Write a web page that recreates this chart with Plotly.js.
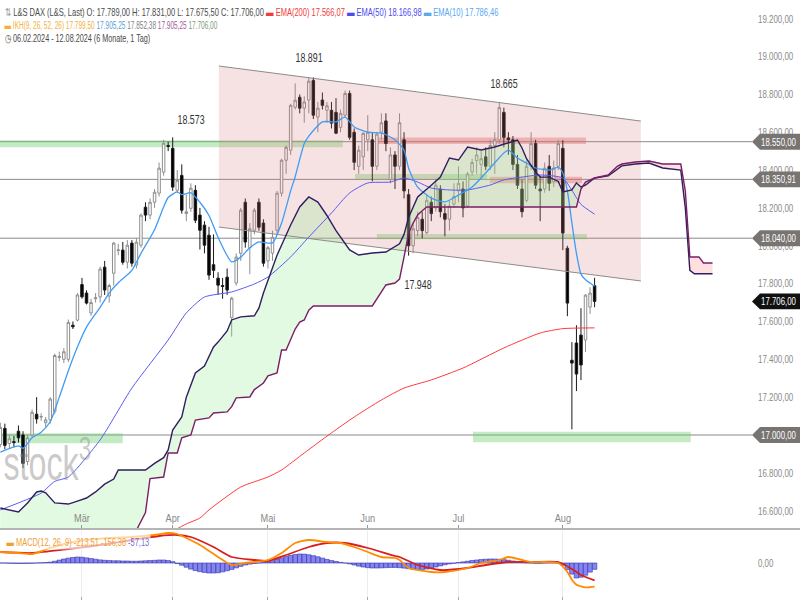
<!DOCTYPE html>
<html><head><meta charset="utf-8">
<script src="https://cdn.plot.ly/plotly-3.0.1.min.js"></script>
<style>html,body{margin:0;padding:0;background:#fff}#chart{width:800px;height:600px}</style>
</head><body><div id="chart"></div>
<script>
// ---------- trading calendar (L&S DAX, daily) ----------
const tradingMonths = [
  ['2024-02','06 07 08 09 12 13 14 15 16 19 20 21 22 23 26 27 28 29'],
  ['2024-03','01 04 05 06 07 08 11 12 13 14 15 18 19 20 21 22 25 26 27 28'],
  ['2024-04','02 03 04 05 08 09 10 11 12 15 16 17 18 19 22 23 24 25 26 29 30'],
  ['2024-05','02 03 06 07 08 09 10 13 14 15 16 17 20 21 22 23 24 27 28 29 30 31'],
  ['2024-06','03 04 05 06 07 10 11 12 13 14 17 18 19 20 21 24 25 26 27 28'],
  ['2024-07','01 02 03 04 05 08 09 10 11 12 15 16 17 18 19 22 23 24 25 26 29 30 31'],
  ['2024-08','01 02 05 06 07 08 09 12']
];
const projectionMonths = [
  ['2024-08','13 14 15 16 19 20 21 22 23 26 27 28 29 30'],
  ['2024-09','02 03 04 05 06 09 10 11 12 13 16 17 18 19 20 23 24 25 26 27 30']
];
const holidays = ['2024-03-29','2024-04-01','2024-05-01'];

// ---------- OHLC ----------
const open  = [16950,17035,16955,16965,17020,17000,16860,17000,17110,17095,17065,17080,17125,17410,17400,17400,17580,17607,17795,17750,17645,17720,17730,17887,17735,17855,17975,17977,17913,18014,17898,18003,18204,18162,18230,18278,18389,18530,18515,18293,18372,18170,18198,18293,18162,18109,18056,17900,17829,17790,17834,17620,17803,17960,18230,17990,18082,18230,18120,17920,17961,18082,18278,18452,18505,18732,18785,18727,18770,18874,18680,18770,18716,18716,18705,18626,18690,18805,18600,18420,18470,18560,18560,18420,18600,18660,18350,18480,18420,18560,18270,18000,18080,18140,18070,18230,18200,18300,18170,18140,18220,18290,18300,18210,18390,18450,18430,18470,18420,18530,18560,18705,18570,18560,18430,18300,18240,18420,18540,18300,18300,18420,18340,18420,18515,17987,17395,17486,17528,17502,17676,17789];
const high  = [17065,17060,17000,16995,17050,17020,17000,17135,17200,17115,17095,17200,17430,17440,17460,17610,17600,17750,17830,17765,17720,17750,17890,17920,17800,18020,18010,18020,18030,18030,18040,18170,18230,18250,18300,18440,18560,18550,18573,18400,18430,18270,18330,18320,18200,18130,18100,18060,17860,17830,17880,17730,17960,18200,18250,18120,18200,18250,18140,18000,18080,18290,18460,18530,18750,18858,18800,18790,18891,18890,18760,18810,18760,18760,18780,18720,18820,18820,18620,18530,18600,18690,18600,18600,18700,18700,18520,18500,18700,18600,18300,18120,18180,18180,18270,18260,18350,18320,18220,18240,18330,18420,18340,18390,18460,18520,18500,18520,18560,18600,18758,18730,18600,18580,18480,18350,18450,18600,18560,18370,18440,18480,18450,18560,18558,18000,17491,17580,17670,17745,17781,17831];
const low   = [16935,16925,16930,16935,16960,16825,16840,16990,17060,17075,17040,17060,17110,17390,17380,17385,17560,17600,17720,17690,17630,17700,17700,17740,17700,17790,17950,17900,17880,17890,17880,17990,18130,18140,18200,18260,18370,18500,18290,18280,18170,18130,18180,18120,17980,17960,17820,17830,17740,17720,17740,17520,17790,17920,17990,17850,18060,18080,17890,17880,17920,18060,18260,18380,18480,18720,18700,18650,18700,18670,18600,18720,18650,18620,18590,18600,18680,18560,18400,18380,18400,18500,18340,18400,18560,18500,18330,18300,18400,18250,17948,17960,18050,18040,18060,18130,18180,18150,18050,18080,18200,18230,18150,18200,18370,18380,18350,18400,18400,18380,18540,18520,18480,18400,18300,18150,18230,18400,18300,18130,18280,18290,18310,18400,17977,17628,17030,17232,17290,17438,17640,17675.5];
const close = [17040,16945,16980,16960,16985,16850,16985,17120,17085,17097,17080,17190,17420,17415,17440,17595,17572,17740,17730,17697,17700,17725,17877,17766,17790,18014,17978,17913,18003,17908,18019,18162,18162,18230,18283,18410,18542,18525,18310,18346,18188,18180,18304,18135,18082,18003,17845,17870,17792,17785,17766,17723,17940,18188,18020,18090,18188,18098,17908,17990,18045,18278,18452,18520,18742,18769,18727,18760,18870,18690,18727,18742,18740,18648,18595,18700,18805,18573,18441,18505,18594,18600,18420,18590,18650,18540,18480,18420,18650,18290,18000,18090,18150,18080,18240,18170,18320,18180,18140,18210,18260,18330,18200,18380,18440,18480,18460,18420,18530,18560,18730,18573,18560,18430,18320,18180,18420,18540,18320,18290,18410,18330,18410,18540,18067,17697,17380,17322,17370,17739,17750,17706];

// ---------- indicators (index = trading day) ----------
const ema10Day = [0,4,5,7,9,11,13,15,17,19,22,24,26,29,31,34,36,37,39,40,42,44,46,48,51,53,55,57,60,62,64,65,67,68,71,74,76,78,81,84,87,89,90,92,95,98,101,104,107,111,112,114,116,118,121,123,124,125,126,127,128,129,130,131];
const ema10Val = [16910,16942,16930,16985,17015,17070,17200,17340,17465,17570,17675,17750,17805,17870,17960,18085,18205,18255,18285,18270,18280,18230,18160,18045,17915,17940,17990,18020,18015,18120,18290,18365,18540,18580,18655,18655,18680,18628,18600,18596,18560,18505,18410,18310,18252,18232,18268,18310,18385,18490,18505,18464,18437,18411,18400,18416,18385,18290,18120,17960,17850,17820,17803,17786];
const ema50Day = [0,4,9,12,15,22,29,37,41,45,51,56,59,64,68,73,77,81,86,89,92,95,99,103,108,111,115,119,124,126,128,131];
const ema50Val = [16604,16641,16693,16755,16778,16974,17248,17502,17645,17729,17756,17798,17835,17941,18046,18173,18279,18332,18337,18358,18337,18305,18295,18295,18321,18348,18363,18374,18358,18293,18219,18167];
const ema200Day = [36,39,41,44,46,53,59,62,67,73,78,84,89,95,102,111,119,124,131];
const ema200Val = [16470,16505,16530,16561,16604,16725,16778,16815,16905,17011,17095,17185,17248,17291,17354,17460,17539,17562,17566];

const spanADay = [0,2,4,6,8,9,10,12,15,17,19,21,23,25,26,32,34,36,37,38,40,41,43,45,47,48,50,51,53,56,57,58,59,61,64,66,68,70,72,74,77,79,82,85,88,89,90,92,95,97,99,101,103,106,109,112,114,115,116,118,119,121,123,124,126,127,128,129,131,134,137,140,143,146,150,151,152,153,157];
const spanAVal = [16614,16604,16593,16641,16699,16704,16694,16641,16635,16651,16667,16699,16740,16767,16815,16815,16850,16880,16921,17026,17095,17200,17328,17365,17465,17491,17550,17608,17624,17630,17670,17750,17819,17950,18110,18205,18258,18231,18160,18080,17978,17951,17962,17967,18010,18060,18150,18258,18320,18363,18464,18453,18522,18506,18522,18543,18559,18517,18460,18390,18363,18363,18340,18284,18295,18332,18311,18320,18358,18369,18422,18432,18437,18411,18400,18200,17870,17852,17852];
const spanBDay = [0,20,29,31,32,33,36,37,39,40,42,43,46,47,50,51,52,55,56,58,59,61,62,63,65,66,67,68,69,82,83,84,85,87,88,89,90,91,92,93,94,127,128,129,131,134,136,137,140,143,145,146,150,151,152,154,155,157];
const spanBVal = [16200,16300,16450,16540,16590,16770,16778,16905,16905,16985,17000,17079,17090,17116,17122,17150,17196,17201,17240,17275,17312,17328,17449,17449,17560,17597,17608,17660,17682,17682,17720,17760,17793,17803,17824,17941,18067,18120,18163,18185,18205,18205,18300,18337,18358,18374,18420,18432,18443,18448,18440,18432,18432,18290,17941,17941,17909,17909];
const cloudTwistDay = 128;

const macdDay = [0,4,7,11,15,19,24,29,34,37,39,41,44,48,51,54,56,59,62,65,68,72,75,78,81,84,87,88,90,95,98,103,106,110,112,115,117,120,123,125,126,127,128,129,130,131];
const macdVal = [99,90,81,135,180,207,225,234,252,270,261,225,162,54,-18,0,9,27,90,180,207,189,180,144,99,54,45,27,-45,-81,-81,-45,0,27,54,27,9,9,0,-81,-150,-195,-210,-220,-218,-213.51];
const signalDay = [0,7,15,22,29,35,39,42,47,51,56,59,63,68,72,76,81,87,88,92,97,103,107,112,117,123,126,128,131];
const signalVal = [99,90,126,162,207,243,252,234,144,54,27,18,72,144,180,180,135,63,54,-18,-63,-45,-18,9,9,9,-54,-108,-156.38];
const histVal = [0,0,-2,-3,-4,-4,-3,-2,0,2,4,
  8,16,26,36,44,50,54,52,46,40,34,28,
  24,22,20,20,18,18,16,16,18,20,22,
  24,27,27,22,12,
  -5,-20,-38,-55,-68,-78,-85,-90,-90,-88,-80,-70,-58,-44,-30,
  -18,-10,-4,0,4,10,
  20,32,46,58,68,76,81,80,74,66,56,44,32,22,
  14,6,0,-8,
  -18,-28,-36,-42,-45,-45,-44,-42,-40,-40,-42,
  -46,-52,-56,-58,-58,-54,-46,-36,-26,
  -16,-8,-2,4,10,16,
  22,27,31,34,36,36,34,30,25,18,12,6,
  2,0,-2,-2,0,2,2,0,
  -20,-60,-100,-135,-128,-110,-82,-57.13];

// ---------- drawn objects ----------
const levels = [18550, 18350.91, 18040, 17000];
const lastPrice = 17706;
const channelDates = ['2024-04-16 16:30', '2024-08-26 16:45'];
const channelUpper = [18950, 18659];
const channelLower = [18099, 17814];
const zoneStart = ['2024-02-06 10:19','2024-06-05 12:00','2024-05-29 16:48','2024-07-10 09:36','2024-06-05 12:00','2024-02-06 10:19','2024-07-04 16:48'];
const zoneEnd   = ['2024-05-24 23:59','2024-08-08 14:24','2024-07-09 19:12','2024-08-07 16:48','2024-08-08 19:12','2024-03-14 12:00','2024-09-10 16:48'];
const zoneLow   = [18520, 18538, 18351, 18330, 18034, 16956, 16961];
const zoneHigh  = [18557, 18572, 18379, 18365, 18062, 17009, 17017];
const zoneKind  = ['support','resistance','support','resistance','support','support','support'];
const extremeLabels = ['18.573','18.891','18.665','17.948'];
const extremeDay = [42, 68, 111, 92];
const extremeY = [18665, 18992, 18857, 17793];
const monthLabels = ['Mär','Apr','Mai','Jun','Jul','Aug'];
const monthFirstDay = ['2024-03-01','2024-04-02','2024-05-02','2024-06-03','2024-07-01','2024-08-01'];
// 17.000 is hidden under its level box in the reference, so its tick label is left out
const priceTicks = [16600,16800,17200,17400,17600,17800,18000,18200,18400,18600,18800,19000,19200];

// ---------- helpers ----------
function expand(list){const out=[];list.forEach(([m,s])=>s.split(' ').forEach(d=>out.push(m+'-'+d+' 12:00')));return out;}
const tradeDates = expand(tradingMonths);
const allDates = tradeDates.concat(expand(projectionMonths));
const dayToDate = a => a.map(i => allDates[i]);
function fmtDE(v){const s=Math.abs(v).toFixed(2);let [i,d]=s.split('.');i=i.replace(/\B(?=(\d{3})+(?!\d))/g,'.');return (v<0?'-':'')+i+','+d;}

const FONT = 'Liberation Sans, Arial, sans-serif';

function pick(days, vals, cond){const d=[],v=[];days.forEach((x,k)=>{if(cond(x)){d.push(x);v.push(vals[k]);}});return [d,v];}
const [gAd,gAv] = pick(spanADay, spanAVal, x=>x<=cloudTwistDay);
const [gBd,gBv] = pick(spanBDay, spanBVal, x=>x<=cloudTwistDay);
const [rAd,rAv] = pick(spanADay, spanAVal, x=>x>=cloudTwistDay);
const [rBd,rBv] = pick(spanBDay, spanBVal, x=>x>=cloudTwistDay);

const traces = [];
traces.push({type:'scatter', mode:'lines', x:[channelDates[0],channelDates[1],channelDates[1],channelDates[0]],
  y:[channelUpper[0],channelUpper[1],channelLower[1],channelLower[0]], fill:'toself',
  fillcolor:'rgba(214,120,120,0.21)', line:{width:0}, hoverinfo:'skip'});
traces.push({type:'scatter', mode:'lines', x:dayToDate(gAd).concat(dayToDate(gBd).reverse()),
  y:gAv.concat(gBv.slice().reverse()), fill:'toself', fillcolor:'rgba(140,235,140,0.25)', line:{width:0}, hoverinfo:'skip'});
traces.push({type:'scatter', mode:'lines', x:dayToDate(rBd).concat(dayToDate(rAd).reverse()),
  y:rBv.concat(rAv.slice().reverse()), fill:'toself', fillcolor:'rgba(255,150,150,0.3)', line:{width:0}, hoverinfo:'skip'});
traces.push({type:'scatter', mode:'lines', x:channelDates, y:channelUpper, line:{color:'#8c8c8c', width:1}});
traces.push({type:'scatter', mode:'lines', x:channelDates, y:channelLower, line:{color:'#8c8c8c', width:1}});
traces.push({type:'scatter', mode:'lines', x:dayToDate(ema200Day), y:ema200Val, line:{color:'#ff3b3b', width:1, shape:'spline', smoothing:0.6}});
traces.push({type:'scatter', mode:'lines', x:dayToDate(ema50Day), y:ema50Val, line:{color:'#5a5af2', width:1, shape:'spline', smoothing:0.6}});
traces.push({type:'scatter', mode:'lines', x:dayToDate(ema10Day), y:ema10Val, line:{color:'#3f9cf5', width:1.3, shape:'spline', smoothing:0.6}});
traces.push({type:'scatter', mode:'lines', x:dayToDate(spanADay), y:spanAVal, line:{color:'#2e1f5e', width:1.4}});
traces.push({type:'scatter', mode:'lines', x:dayToDate(spanBDay), y:spanBVal, line:{color:'#7a1f66', width:1.4}});
traces.push({type:'candlestick', x:tradeDates, open:open, high:high, low:low, close:close,
  increasing:{line:{color:'#8f8f8f', width:1}, fillcolor:'#ffffff'},
  decreasing:{line:{color:'#1a1a1a', width:1}, fillcolor:'#000000'}, whiskerwidth:0, hoverinfo:'skip'});
traces.push({type:'bar', x:tradeDates, y:histVal, xaxis:'x2', yaxis:'y2',
  marker:{color:'rgba(112,112,236,0.85)', line:{color:'#3434b0', width:0.6}}});
traces.push({type:'scatter', mode:'lines', x:dayToDate(signalDay), y:signalVal, xaxis:'x2', yaxis:'y2',
  line:{color:'#d81e1e', width:1.8, shape:'spline', smoothing:0.6}});
traces.push({type:'scatter', mode:'lines', x:dayToDate(macdDay), y:macdVal, xaxis:'x2', yaxis:'y2',
  line:{color:'#ff8c00', width:1.8, shape:'spline', smoothing:0.6}});

const shapes = [];
zoneStart.forEach((s,k)=>{
  shapes.push({type:'rect', xref:'x', yref:'y', x0:s, x1:zoneEnd[k], y0:zoneLow[k], y1:zoneHigh[k], layer:'below',
    fillcolor: zoneKind[k]==='support' ? 'rgba(100,205,100,0.38)' : 'rgba(235,95,95,0.38)', line:{width:0}});
});
levels.forEach(l=>shapes.push({type:'line', xref:'paper', yref:'y', x0:0, x1:1, y0:l, y1:l, layer:'below',
  line:{color:'#8a8a8a', width:1}}));
shapes.push({type:'line', xref:'paper', yref:'paper', x0:0, x1:1.07, y0:0.1183, y1:0.1183, line:{color:'#b5b5b5', width:2}});
function priceBox(level, fill){const h=42;return {type:'path', xref:'paper', yref:'y', layer:'above', fillcolor:fill, line:{width:0},
  path:`M1,${level} L1.0106,${level+h} L1.07,${level+h} L1.07,${level-h} L1.0106,${level-h} Z`};}
levels.forEach(l=>shapes.push(priceBox(l,'#787471')));
shapes.push(priceBox(lastPrice,'#111111'));

// annotations (+ the width each one takes in the reference, used to condense the text)
const ann = [], annWidth = [];
function addAnn(a, w){ann.push(a); annWidth.push(w);}
levels.concat([lastPrice]).forEach(l=>addAnn({xref:'paper', yref:'y', x:1.0346, y:l, xanchor:'center', yanchor:'middle',
  text:fmtDE(l), showarrow:false, font:{family:FONT, size:11, color:'#ffffff'}}, 37));
extremeLabels.forEach((t,k)=>addAnn({xref:'x', yref:'y', x:allDates[extremeDay[k]], y:extremeY[k], text:t, showarrow:false,
  xanchor:'center', yanchor:'middle', font:{family:FONT, size:12.5, color:'#333'}}, 29));
const row1 = `<span style="color:#999">⇅</span> L&amp;S DAX (L&amp;S, Last) O: ${fmtDE(open[131])} H: ${fmtDE(high[131])} L: ${fmtDE(low[131])} C: ${fmtDE(close[131])} `+
  `<span style="color:#f03c3c">▬ EMA(200) 17.566,07</span> <span style="color:#4b4bef">▬ EMA(50) 18.166,98</span> <span style="color:#5aa8f0">▬ EMA(10) 17.786,46</span>`;
const row2 = `<span style="color:#f2b13c">▬ IKH(9, 26, 52, 26) 17.799,50</span> <span style="color:#58a2d8">17.905,25</span> <span style="color:#7f7f7f">17.852,38</span> <span style="color:#a25c9c">17.905,25</span> <span style="color:#7d9a7d">17.706,00</span>`;
const row3 = `◷ 06.02.2024 - 12.08.2024 (6 Monate, 1 Tag)`;
[[row1,0.98,496],[row2,0.958,215],[row3,0.936,148]].forEach(([t,y,w])=>addAnn({xref:'paper', yref:'paper', x:0.004, y:y, xanchor:'left', yanchor:'middle',
  text:t, showarrow:false, font:{family:FONT, size:11, color:'#4a4a4a'}}, w));
addAnn({xref:'paper', yref:'paper', x:0.006, y:0.0967, xanchor:'left', yanchor:'middle', showarrow:false, bgcolor:'rgba(255,255,255,0.65)',
  text:`<span style="color:#f0a030">▬ MACD(12, 26, 9) -213,51 -156,38</span> <span style="color:#6f6fd6">-57,13</span>`, font:{family:FONT, size:11}}, 145);
addAnn({xref:'paper', yref:'y', x:0.002, y:16866, xanchor:'left', yanchor:'middle', showarrow:false,
  text:'stock<sup>3</sup>', font:{family:FONT, size:48, color:'rgba(150,150,150,0.5)'}}, 90);

const rb = [{bounds:['sat','mon']}, {values:holidays}];
const tickDates = monthFirstDay.map(d=>d+' 12:00');
const layout = {
  width:800, height:600, margin:{l:0, r:48, t:0, b:0}, paper_bgcolor:'#fff', plot_bgcolor:'#fff',
  showlegend:false, separators:',.', bargap:0, boxgap:0.22, font:{family:FONT, color:'#777'},
  xaxis:{type:'date', range:['2024-02-06 10:19','2024-09-30 04:48'], rangebreaks:rb, anchor:'y',
    tickvals:tickDates, ticktext:monthLabels, ticklabelposition:'inside', ticks:'inside', ticklen:3, tickcolor:'#999',
    tickfont:{family:FONT, size:11.5, color:'#888'}, showgrid:false, zeroline:false, showline:false, rangeslider:{visible:false}},
  yaxis:{domain:[0.12,1], range:[16508.5,19298.8], side:'right', tickvals:priceTicks, tickformat:',.2f', ticksuffix:' -',
    showgrid:false, zeroline:false, ticks:'', ticklabelstandoff:5, tickfont:{family:FONT, size:11, color:'#8a8a8a'}, fixedrange:true},
  xaxis2:{type:'date', matches:'x', rangebreaks:rb, anchor:'y2', tickvals:tickDates, showticklabels:false, ticks:'inside', ticklen:3,
    tickcolor:'#aaa', showgrid:true, gridcolor:'#ececec', zeroline:false},
  yaxis2:{domain:[0,0.115], range:[-333,288], side:'right', tickvals:[0], tickformat:',.2f', ticksuffix:' -', showgrid:false,
    zeroline:false, ticks:'', ticklabelstandoff:5, tickfont:{family:FONT, size:11, color:'#8a8a8a'}},
  shapes:shapes, annotations:ann
};

// the reference uses a condensed face; squeeze the rendered texts horizontally to the same widths
function condense(gd){
  gd.querySelectorAll('g.annotation').forEach(g=>{
    const i = +g.getAttribute('data-index'); const w = annWidth[i]; if(!w) return;
    const r = g.getBoundingClientRect(); if(!r.width) return;
    const f = w / r.width; const a = ann[i].xanchor;
    const ax = a==='left' ? r.left : a==='right' ? r.right : r.left + r.width/2;
    g.setAttribute('transform', `translate(${ax},0) scale(${f},1) translate(${-ax},0)`);
  });
  const squeeze = (sel, f) => gd.querySelectorAll(sel).forEach(t=>{
    const len = t.getComputedTextLength(); if(!len) return;
    t.setAttribute('textLength', (len*f).toFixed(2)); t.setAttribute('lengthAdjust','spacingAndGlyphs');
  });
  squeeze('g.ytick text', 0.72);
  squeeze('g.y2tick text', 0.72);
  squeeze('g.xtick text', 0.8);
}
Plotly.newPlot('chart', traces, layout, {staticPlot:true, displayModeBar:false}).then(condense);
</script></body></html>
